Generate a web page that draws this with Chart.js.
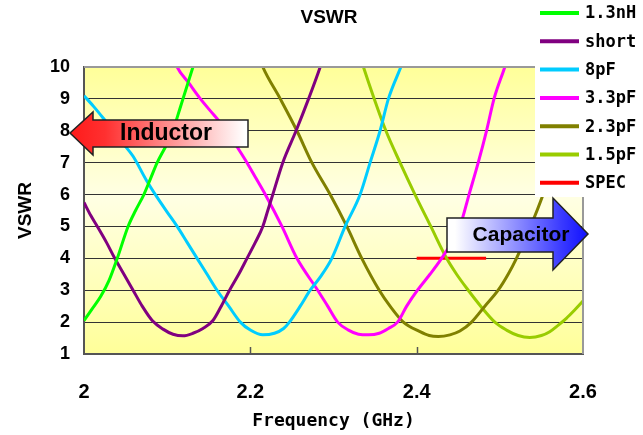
<!DOCTYPE html>
<html>
<head>
<meta charset="utf-8">
<script src="https://cdn.jsdelivr.net/npm/chart.js@4"></script>
<style>
  html, body { margin: 0; padding: 0; background: #fff; }
  #wrap { width: 643px; height: 435px; }
</style>
</head>
<body>
<div id="wrap"><canvas id="vswrChart"></canvas></div>
<script>
// VSWR vs frequency for different matching parts
const freq13nH = [2.000, 2.010, 2.020, 2.030, 2.040, 2.053, 2.062, 2.072, 2.080, 2.088, 2.098, 2.107, 2.113, 2.119, 2.125, 2.131, 2.137];
const vswr13nH = [2.05, 2.42, 2.80, 3.30, 4.00, 5.00, 5.50, 6.00, 6.50, 7.00, 7.50, 8.00, 8.50, 9.00, 9.50, 10.00, 10.50];

const freqShort = [2.000, 2.008, 2.016, 2.027, 2.037, 2.048, 2.059, 2.070, 2.082, 2.095, 2.107, 2.119, 2.131, 2.143, 2.155, 2.165, 2.175, 2.186, 2.196, 2.206, 2.215, 2.221, 2.227, 2.239, 2.255, 2.270, 2.284, 2.290];
const vswrShort = [5.75, 5.35, 5.00, 4.50, 4.00, 3.50, 3.00, 2.50, 2.05, 1.78, 1.62, 1.57, 1.65, 1.80, 2.05, 2.50, 3.00, 3.50, 4.00, 4.50, 5.00, 5.50, 6.00, 7.00, 8.00, 9.00, 10.00, 10.50];

const freq8pF = [2.000, 2.012, 2.023, 2.035, 2.047, 2.059, 2.075, 2.087, 2.100, 2.112, 2.124, 2.136, 2.148, 2.160, 2.174, 2.188, 2.200, 2.215, 2.229, 2.240, 2.247, 2.260, 2.272, 2.284, 2.298, 2.314, 2.332, 2.344, 2.356, 2.366, 2.381, 2.390];
const vswr8pF = [9.10, 8.75, 8.40, 8.00, 7.60, 7.20, 6.45, 5.95, 5.45, 5.00, 4.50, 4.00, 3.50, 3.00, 2.50, 2.00, 1.75, 1.60, 1.65, 1.80, 2.00, 2.50, 3.00, 3.41, 4.00, 5.00, 6.00, 7.00, 8.00, 9.00, 10.00, 10.60];

const freq33pF = [2.105, 2.112, 2.126, 2.140, 2.156, 2.172, 2.184, 2.196, 2.207, 2.218, 2.238, 2.256, 2.281, 2.293, 2.305, 2.318, 2.330, 2.342, 2.355, 2.366, 2.377, 2.388, 2.401, 2.416, 2.430, 2.442, 2.452, 2.463, 2.474, 2.484, 2.493, 2.506, 2.512];
const vswr33pF = [10.50, 10.00, 9.50, 9.00, 8.50, 8.00, 7.50, 7.00, 6.50, 6.00, 5.00, 4.00, 3.00, 2.50, 2.00, 1.75, 1.62, 1.60, 1.65, 1.80, 2.00, 2.50, 3.00, 3.50, 4.00, 4.50, 5.00, 6.00, 7.00, 8.00, 9.00, 10.00, 10.50];

const freq23pF = [2.208, 2.215, 2.236, 2.256, 2.274, 2.296, 2.316, 2.334, 2.355, 2.368, 2.384, 2.404, 2.415, 2.426, 2.440, 2.452, 2.466, 2.482, 2.498, 2.510, 2.520, 2.537, 2.552, 2.562, 2.572, 2.582, 2.592, 2.600];
const vswr23pF = [10.50, 10.00, 9.00, 8.00, 7.00, 6.00, 5.00, 4.00, 3.00, 2.50, 2.00, 1.70, 1.58, 1.55, 1.60, 1.72, 2.00, 2.50, 3.00, 3.50, 4.00, 5.00, 6.00, 6.80, 7.70, 8.60, 9.50, 10.20];

const freq15pF = [2.330, 2.336, 2.349, 2.363, 2.380, 2.398, 2.417, 2.436, 2.448, 2.462, 2.477, 2.494, 2.508, 2.522, 2.536, 2.550, 2.560, 2.570, 2.580, 2.590, 2.600];
const vswr15pF = [10.50, 10.00, 9.00, 8.00, 7.00, 6.00, 5.00, 4.00, 3.50, 3.00, 2.50, 2.00, 1.75, 1.58, 1.52, 1.58, 1.70, 1.90, 2.12, 2.38, 2.66];

const freqSpec = [2.4, 2.4835];
const vswrSpec = [4, 4];

const seriesNames = ["1.3nH", "short", "8pF", "3.3pF", "2.3pF", "1.5pF", "SPEC"];
const seriesColors = ["#00ff00", "#800080", "#00ccff", "#ff00ff", "#808000", "#99cc00", "#ff0000"];
const seriesFreq = [freq13nH, freqShort, freq8pF, freq33pF, freq23pF, freq15pF, freqSpec];
const seriesVswr = [vswr13nH, vswrShort, vswr8pF, vswr33pF, vswr23pF, vswr15pF, vswrSpec];

const chartTitle = "VSWR";
const xTitle = "Frequency (GHz)";
const yTitle = "VSWR";

const datasets = seriesNames.map((name, i) => ({
    label: name,
    data: seriesFreq[i].map((f, j) => ({ x: f, y: seriesVswr[i][j] })),
    borderColor: seriesColors[i],
    backgroundColor: seriesColors[i],
    borderWidth: 3,
    pointRadius: 0,
    cubicInterpolationMode: "monotone",
    fill: false,
}));

function drawArrow(ctx, pts, grad, text, font, tx, ty) {
    ctx.save();
    ctx.beginPath();
    pts.forEach((p, i) => (i ? ctx.lineTo(p[0], p[1]) : ctx.moveTo(p[0], p[1])));
    ctx.closePath();
    ctx.fillStyle = grad;
    ctx.fill();
    ctx.lineWidth = 1.5;
    ctx.strokeStyle = "#222";
    ctx.stroke();
    ctx.fillStyle = "#000";
    ctx.font = font;
    ctx.textAlign = "center";
    ctx.textBaseline = "middle";
    ctx.fillText(text, tx, ty);
    ctx.restore();
}

const decor = {
    id: "decor",
    beforeDraw(chart) {
        const { ctx, chartArea: a } = chart;
        const g = ctx.createLinearGradient(0, a.top, 0, a.bottom);
        g.addColorStop(0, "#ffff99");
        g.addColorStop(0.45, "#ffffe4");
        g.addColorStop(1, "#ffff99");
        ctx.save();
        ctx.fillStyle = g;
        ctx.fillRect(a.left, a.top, a.right - a.left, a.bottom - a.top);
        ctx.restore();
    },
    afterDraw(chart) {
        const { ctx, chartArea: a } = chart;
        const xs = chart.scales.x;
        ctx.save();

        // top / right frame
        ctx.strokeStyle = "#999";
        ctx.lineWidth = 2;
        ctx.beginPath();
        ctx.moveTo(a.left, a.top);
        ctx.lineTo(a.right, a.top);
        ctx.lineTo(a.right, a.bottom);
        ctx.stroke();

        // small inner tick marks on the frequency axis
        ctx.strokeStyle = "#555";
        ctx.lineWidth = 1.5;
        [2.2, 2.4].forEach((v) => {
            const px = Math.round(xs.getPixelForValue(v)) + 0.5;
            ctx.beginPath();
            ctx.moveTo(px, a.bottom);
            ctx.lineTo(px, a.bottom - 7);
            ctx.stroke();
        });

        // title
        ctx.fillStyle = "#000";
        ctx.font = "bold 19px 'Liberation Sans'";
        ctx.textAlign = "center";
        ctx.textBaseline = "middle";
        ctx.fillText(chartTitle, 329, 18);

        // legend (sits over the top-right corner of the plot)
        ctx.fillStyle = "#fff";
        ctx.fillRect(535, 0, 108, 197);
        ctx.font = "bold 17px 'DejaVu Sans Mono'";
        ctx.textAlign = "left";
        chart.data.datasets.forEach((ds, i) => {
            const y = 13 + i * 28.3;
            ctx.strokeStyle = ds.borderColor;
            ctx.lineWidth = 4;
            ctx.beginPath();
            ctx.moveTo(540, y);
            ctx.lineTo(579, y);
            ctx.stroke();
            ctx.fillStyle = "#000";
            ctx.fillText(ds.label, 585, y + 1);
        });

        // Inductor arrow
        const gi = ctx.createLinearGradient(70, 0, 245, 0);
        gi.addColorStop(0, "#ff1a1a");
        gi.addColorStop(0.2, "#ff3030");
        gi.addColorStop(1, "#ffffff");
        drawArrow(ctx,
            [[70, 133], [93, 112], [93, 120], [248, 120], [248, 147], [93, 147], [93, 155]],
            gi, "Inductor", "bold 23px 'Liberation Sans'", 166, 134);

        // Capacitor arrow
        const gc = ctx.createLinearGradient(455, 0, 588, 0);
        gc.addColorStop(0, "#ffffff");
        gc.addColorStop(0.8, "#3a3aff");
        gc.addColorStop(1, "#1010ff");
        drawArrow(ctx,
            [[447, 218], [553, 218], [553, 198], [588, 234], [553, 270], [553, 252], [447, 252]],
            gc, "Capacitor", "bold 21px 'Liberation Sans'", 521, 235);

        ctx.restore();
    },
};

document.addEventListener("DOMContentLoaded", function () {
    const ctx = document.getElementById("vswrChart");
    new Chart(ctx, {
        type: "line",
        data: { datasets: datasets },
        options: {
            responsive: true,
            maintainAspectRatio: false,
            animation: false,
            layout: { padding: { top: 67, right: 60, left: 0, bottom: 0 } },
            plugins: {
                legend: { display: false },
                title: { display: false },
                tooltip: { enabled: false },
            },
            scales: {
                x: {
                    type: "linear",
                    min: 2,
                    max: 2.6,
                    afterFit: (scale) => { scale.height = 81; },
                    grid: { display: false, drawTicks: false },
                    border: { display: true, color: "#555", width: 2 },
                    ticks: {
                        stepSize: 0.2,
                        padding: 26,
                        color: "#000",
                        font: { family: "'Liberation Sans'", size: 20, weight: "bold" },
                        callback: (v) => String(Number(v.toFixed(1))),
                    },
                    title: {
                        display: true,
                        text: xTitle,
                        color: "#000",
                        font: { family: "'DejaVu Sans Mono'", size: 18, weight: "bold" },
                        padding: { top: 0, bottom: 3 },
                    },
                },
                y: {
                    min: 1,
                    max: 10,
                    afterFit: (scale) => { scale.width = 84; },
                    grid: { color: "#333", lineWidth: 1, drawTicks: false },
                    border: { display: true, color: "#555", width: 2 },
                    ticks: {
                        stepSize: 1,
                        padding: 14,
                        color: "#000",
                        font: { family: "'Liberation Sans'", size: 18, weight: "bold" },
                    },
                    title: {
                        display: true,
                        text: yTitle,
                        color: "#000",
                        font: { family: "'Liberation Sans'", size: 19, weight: "bold" },
                        padding: { top: 14, bottom: 0 },
                    },
                },
            },
        },
        plugins: [decor],
    });
});
</script>
</body>
</html>
